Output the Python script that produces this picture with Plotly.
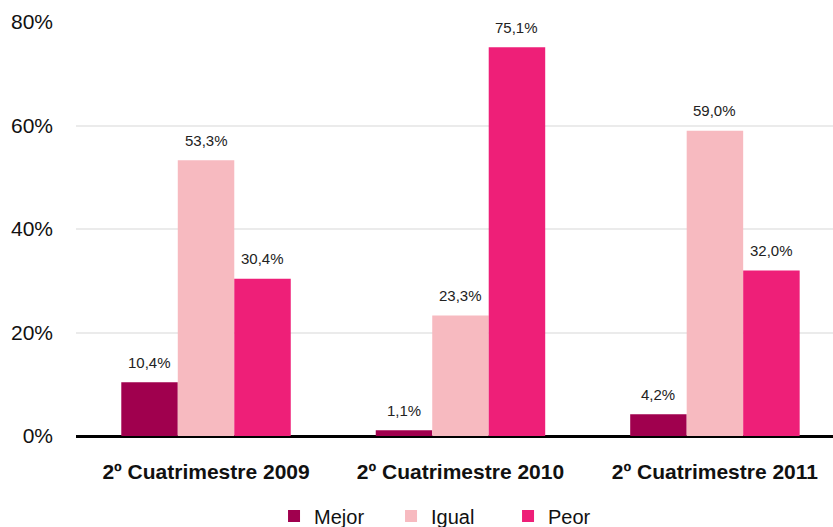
import plotly.graph_objects as go

categories = ["2º Cuatrimestre 2009", "2º Cuatrimestre 2010", "2º Cuatrimestre 2011"]
series_names = ["Mejor", "Igual", "Peor"]
mejor = [10.4, 1.1, 4.2]
igual = [53.3, 23.3, 59.0]
peor = [30.4, 75.1, 32.0]
colors = ["#A0004E", "#F7BAC0", "#EE1F78"]
y_ticks = [0, 20, 40, 60, 80]
y_tick_labels = ["0%", "20%", "40%", "60%", "80%"]

font = "Liberation Sans, Arial, Helvetica, sans-serif"
fig = go.Figure()
all_series = [mejor, igual, peor]
for name, vals, col in zip(series_names, all_series, colors):
    fig.add_trace(go.Bar(name=name, x=categories, y=vals, marker=dict(color=col, line=dict(width=0))))

bar_px = 56.5
for i, vals in enumerate(all_series):
    for cat, v in zip(categories, vals):
        fig.add_annotation(x=cat, y=v, text=f"{v:.1f}%".replace(".", ","), showarrow=False,
                           xshift=(i - 1) * bar_px, yshift=20, yanchor="middle",
                           font=dict(size=15, color="#222", family=font))

fig.update_layout(
    width=833, height=527,
    margin=dict(l=76, r=0, t=22, b=91, autoexpand=False),
    paper_bgcolor="white", plot_bgcolor="white",
    barmode="group", bargap=0.334, bargroupgap=0,
    font=dict(family=font, color="#111"),
    showlegend=True,
    legend=dict(orientation="h", x=0.2616, xanchor="left", y=-0.193, yanchor="middle",
                font=dict(size=20, color="#111"), itemwidth=30, traceorder="normal",
                entrywidth=72, entrywidthmode="pixels"),
    xaxis=dict(range=[-0.511, 2.464], showgrid=False, ticks="", ticklabelstandoff=21,
               tickfont=dict(size=21, color="#111", family="Liberation Sans, Arial", weight="bold"),
               showline=False, zeroline=False),
    yaxis=dict(range=[0, 80], tickvals=y_ticks, ticktext=y_tick_labels,
               showgrid=True, gridcolor="#EBEBEB", gridwidth=2,
               zeroline=True, zerolinecolor="#000", zerolinewidth=3,
               tickfont=dict(size=21, color="#111"), ticklabelstandoff=22, showline=False),
)
fig.write_html("out.html")
